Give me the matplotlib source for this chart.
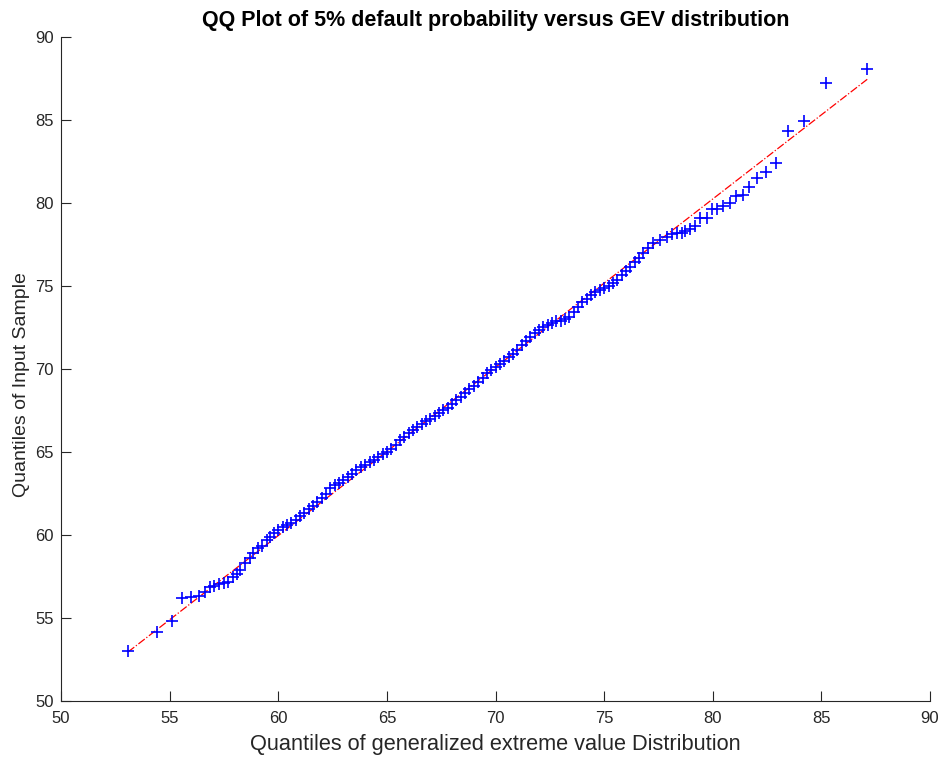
import matplotlib
matplotlib.use("Agg")
import matplotlib.pyplot as plt

plt.rcParams["font.family"] = ["Liberation Sans", "DejaVu Sans"]

# theoretical quantiles (GEV) and sorted sample quantiles
gev_q = [
    53.08, 54.42, 55.11, 55.56, 55.97, 56.35, 56.63, 56.86, 57.06, 57.29,
    57.50, 57.70, 57.93, 58.09, 58.24, 58.47, 58.70, 58.84, 59.07, 59.24,
    59.47, 59.60, 59.80, 60.00, 60.20, 60.40, 60.60, 60.80, 61.00, 61.20,
    61.40, 61.60, 61.80, 62.00, 62.20, 62.40, 62.60, 62.80, 63.00, 63.20,
    63.40, 63.60, 63.80, 64.00, 64.20, 64.40, 64.60, 64.80, 65.00, 65.20,
    65.40, 65.60, 65.80, 66.00, 66.20, 66.40, 66.60, 66.80, 67.00, 67.20,
    67.40, 67.60, 67.80, 68.00, 68.20, 68.40, 68.60, 68.80, 69.00, 69.20,
    69.40, 69.60, 69.80, 70.00, 70.20, 70.40, 70.60, 70.80, 71.00, 71.20,
    71.40, 71.60, 71.80, 72.00, 72.20, 72.40, 72.60, 72.80, 73.00, 73.20,
    73.40, 73.60, 73.80, 74.00, 74.20, 74.40, 74.60, 74.80, 75.00, 75.20,
    75.40, 75.60, 75.80, 76.00, 76.20, 76.40, 76.60, 76.80, 77.00, 77.26,
    77.57, 77.88, 78.11, 78.34, 78.57, 78.72, 78.95, 79.18, 79.41, 79.72,
    79.95, 80.21, 80.46, 80.79, 81.07, 81.38, 81.68, 82.02, 82.45, 82.91,
    83.48, 84.21, 85.21, 87.11,
]
sample_q = [
    53.01, 54.16, 54.82, 56.22, 56.25, 56.33, 56.58, 56.89, 56.95, 57.05,
    57.11, 57.19, 57.49, 57.63, 57.89, 58.31, 58.61, 58.92, 59.22, 59.34,
    59.70, 59.90, 60.12, 60.30, 60.48, 60.62, 60.74, 60.90, 61.12, 61.32,
    61.55, 61.75, 61.96, 62.20, 62.48, 62.82, 63.00, 63.15, 63.32, 63.52,
    63.70, 63.91, 64.08, 64.23, 64.38, 64.53, 64.69, 64.85, 65.01, 65.18,
    65.45, 65.72, 65.92, 66.12, 66.31, 66.48, 66.66, 66.84, 67.01, 67.18,
    67.34, 67.50, 67.68, 67.90, 68.12, 68.34, 68.56, 68.77, 69.00, 69.22,
    69.48, 69.74, 69.92, 70.09, 70.28, 70.50, 70.72, 70.93, 71.16, 71.42,
    71.70, 71.93, 72.14, 72.34, 72.51, 72.67, 72.78, 72.87, 72.92, 73.00,
    73.13, 73.42, 73.74, 74.01, 74.24, 74.46, 74.63, 74.76, 74.88, 75.01,
    75.15, 75.39, 75.65, 75.91, 76.17, 76.45, 76.71, 77.00, 77.30, 77.57,
    77.77, 77.97, 78.13, 78.17, 78.21, 78.31, 78.43, 78.61, 79.08, 79.11,
    79.62, 79.66, 79.82, 80.02, 80.42, 80.46, 80.98, 81.52, 81.85, 82.39,
    84.36, 84.94, 87.25, 88.09,
]

# reference line end points
ref_x = [53.08, 87.11]
ref_y = [52.95, 87.45]

ticks = [50, 55, 60, 65, 70, 75, 80, 85, 90]

fig = plt.figure(figsize=(9.42, 7.59), dpi=100)
ax = fig.add_axes([0.0648, 0.0764, 0.9225, 0.8749])

ax.plot(ref_x, ref_y, color="red", linestyle="-.", linewidth=0.9)
ax.plot(gev_q, sample_q, linestyle="none", marker="+", color="blue",
        markersize=8.5, markeredgewidth=1.2)

ax.set_xlim(50, 90)
ax.set_ylim(50, 90)
ax.set_xticks(ticks)
ax.set_yticks(ticks)

for side in ["top", "right"]:
    ax.spines[side].set_visible(False)
for side in ["left", "bottom"]:
    ax.spines[side].set_color("#262626")
    ax.spines[side].set_linewidth(0.8)
ax.tick_params(direction="in", length=7, width=0.8, colors="#262626",
               labelsize=12)
ax.tick_params(axis="x", pad=7)
ax.tick_params(axis="y", pad=5)

ax.set_title("QQ Plot of 5% default probability versus GEV distribution",
             fontsize=15.5, fontweight="bold", pad=8)
ax.set_xlabel("Quantiles of generalized extreme value Distribution",
              fontsize=15.7, color="#262626", labelpad=6)
ax.set_ylabel("Quantiles of Input Sample", fontsize=14, color="#262626")
ax.yaxis.set_label_coords(-0.036, 0.477)

fig.savefig("out.png", dpi=100)
